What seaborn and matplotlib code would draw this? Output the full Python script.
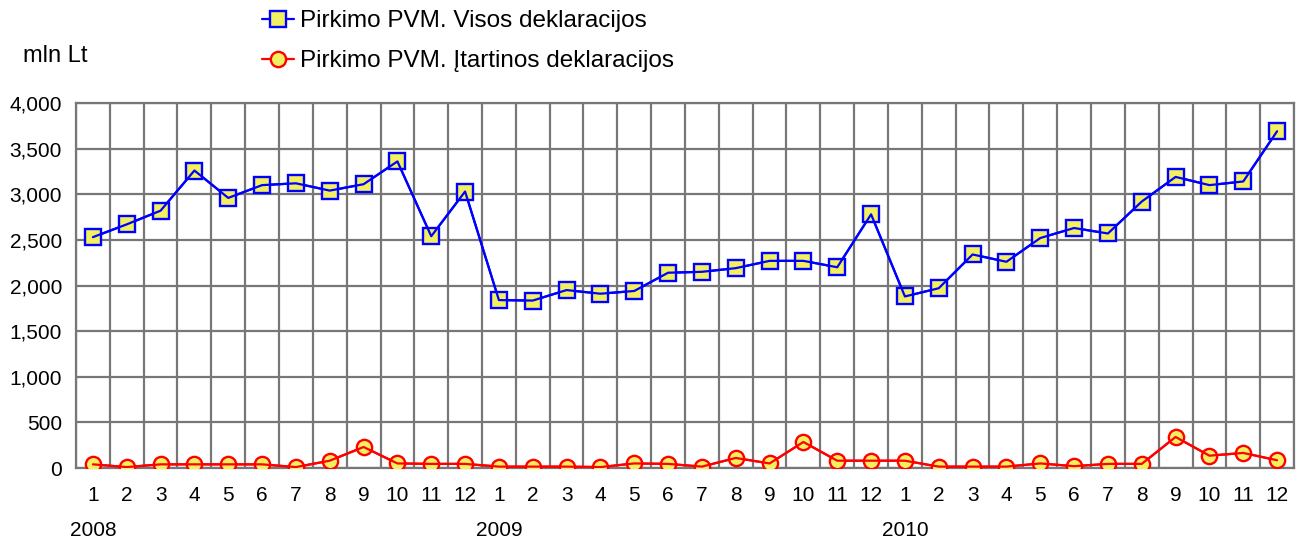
import matplotlib
matplotlib.use("Agg")
import matplotlib.pyplot as plt
import matplotlib.transforms as mtransforms
import seaborn as sns
import pandas as pd
import numpy as np

months = [str(m) for m in range(1, 13)] * 3
years = ["2008", "2009", "2010"]
visos = [2530, 2670, 2820, 3260, 2960, 3100, 3120, 3040, 3110, 3360, 2540, 3030,
         1840, 1835, 1950, 1910, 1940, 2140, 2150, 2190, 2270, 2270, 2200, 2780,
         1880, 1970, 2340, 2260, 2520, 2630, 2570, 2920, 3190, 3100, 3140, 3690]
itartinos = [40, 10, 40, 40, 40, 40, 10, 80, 230, 50, 45, 45,
             15, 15, 15, 10, 50, 45, 15, 110, 50, 285, 80, 80,
             80, 15, 15, 15, 50, 20, 45, 45, 340, 135, 165, 85]
label_visos = "Pirkimo PVM. Visos deklaracijos"
label_itart = "Pirkimo PVM. Įtartinos deklaracijos"
unit_label = "mln Lt"
yticks = [0, 500, 1000, 1500, 2000, 2500, 3000, 3500, 4000]

sns.set_theme(style="white")
plt.rcParams["font.family"] = ["Liberation Sans", "DejaVu Sans"]
plt.rcParams["text.color"] = "black"

W, H = 1297, 543
fig = plt.figure(figsize=(W / 100, H / 100), dpi=100)
ax = fig.add_axes([76 / W, 1 - 468 / H, (1294 - 76) / W, (468 - 103) / H])

idx = np.arange(len(months))
df = pd.DataFrame({"i": idx, "visos": visos, "itartinos": itartinos})

yellow = "#f2f060"
ms = 11
mew = 1.7
lw = 1.6

# markers (drawn beneath line, as in reference)
sns.lineplot(data=df, x="i", y="visos", ax=ax, color="#0000ff", lw=lw,
             marker="s", markersize=ms, markerfacecolor=yellow,
             markeredgecolor="#0000ff", markeredgewidth=mew,
             label=label_visos, zorder=3)
sns.lineplot(data=df, x="i", y="itartinos", ax=ax, color="#ff0000", lw=lw,
             marker="o", markersize=ms, markerfacecolor=yellow,
             markeredgecolor="#ff0000", markeredgewidth=mew,
             label=label_itart, zorder=3)
# lines over markers
sns.lineplot(data=df, x="i", y="visos", ax=ax, color="#0000ff", lw=lw,
             legend=False, zorder=4)
sns.lineplot(data=df, x="i", y="itartinos", ax=ax, color="#ff0000", lw=lw,
             legend=False, zorder=4)

ax.set_xlim(-0.5, len(months) - 0.5)
ax.set_ylim(0, 4000)
ax.set_yticks(yticks)
ax.set_yticklabels([f"{v:,}" for v in yticks])
ax.set_xticks(idx)
ax.set_xticklabels(months)
ax.set_xticks(np.arange(len(months) + 1) - 0.5, minor=True)
ax.set_xlabel("")
ax.set_ylabel("")

gcol = "#777777"
ax.grid(False)
ax.grid(True, which="minor", axis="x", color=gcol, lw=1.6)
ax.grid(True, which="major", axis="y", color=gcol, lw=1.6)
ax.set_axisbelow(True)
for s in ax.spines.values():
    s.set_color(gcol)
    s.set_linewidth(1.6)
    s.set_visible(True)
ax.tick_params(axis="both", which="both", length=0, labelsize=15, colors="black")
ax.tick_params(axis="x", pad=13)
ax.tick_params(axis="y", pad=10)

# year labels
trans = mtransforms.blended_transform_factory(ax.transData, fig.transFigure)
for k, yr in enumerate(years):
    ax.text(k * 12, 1 - 531 / H, yr, transform=trans, ha="center", va="center",
            fontsize=15, color="black")

fig.text(23 / W, 1 - 56 / H, unit_label, ha="left", va="center", fontsize=17,
         color="black")

handles, labels = ax.get_legend_handles_labels()
ax.get_legend().remove()
leg = fig.legend(handles[:2], labels[:2], loc="upper left",
                 bbox_to_anchor=(262 / W, 1 - 10 / H), frameon=False,
                 fontsize=17.5, handlelength=1.3, handletextpad=0.25,
                 labelspacing=0.75, borderaxespad=0, borderpad=0)
for t in leg.get_texts():
    t.set_color("black")

fig.savefig("out.png", dpi=100)
